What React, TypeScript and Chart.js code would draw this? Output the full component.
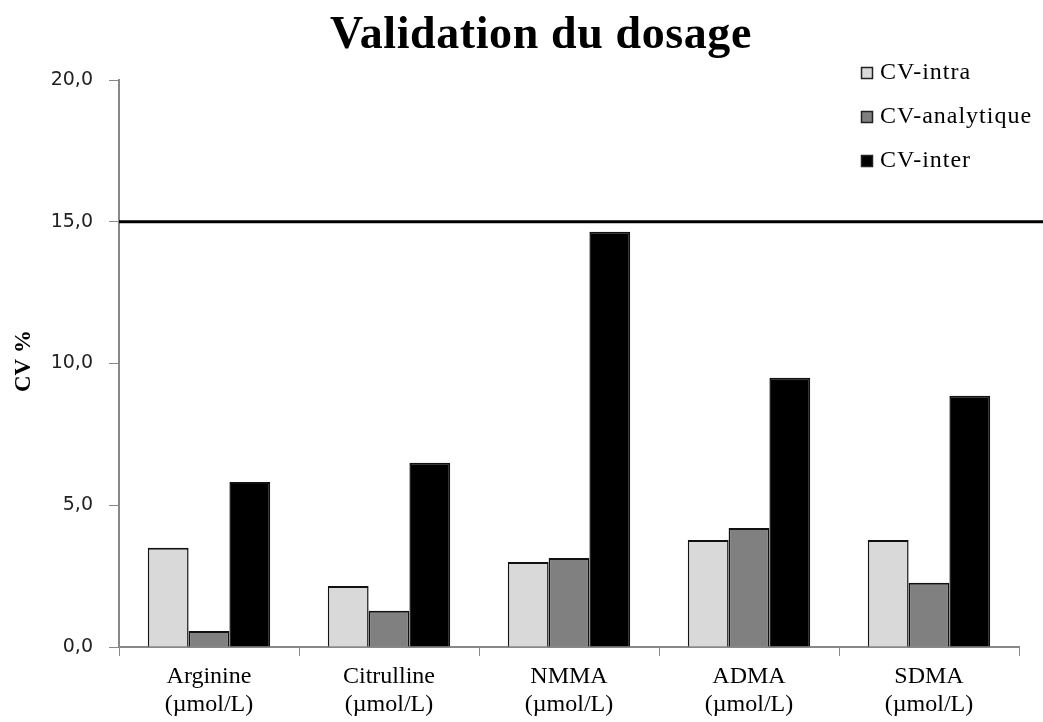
import React, { useEffect, useRef } from "react";
import { Chart, registerables } from "chart.js";

Chart.register(...registerables);

const categories: string[][] = [
  ["Arginine", "(µmol/L)"],
  ["Citrulline", "(µmol/L)"],
  ["NMMA", "(µmol/L)"],
  ["ADMA", "(µmol/L)"],
  ["SDMA", "(µmol/L)"],
];
const cvIntra = [3.5, 2.15, 3.0, 3.77, 3.77];
const cvAnalytique = [0.56, 1.28, 3.14, 4.2, 2.27];
const cvInter = [5.82, 6.5, 14.65, 9.5, 8.86];
const seriesNames = ["CV-intra", "CV-analytique", "CV-inter"];
const seriesColors = ["#d9d9d9", "#808080", "#000000"];
const yTicks = [0, 5, 10, 15, 20];
const thresholdValue = 15;
const titleText = "Validation du dosage";
const yTitle = "CV %";

const overlayPlugin = {
  id: "overlay",
  afterDatasetsDraw(chart: any) {
    const { ctx, chartArea, scales } = chart;
    const y = scales.y.getPixelForValue(thresholdValue);
    ctx.save();
    ctx.strokeStyle = "#000";
    ctx.lineWidth = 3;
    ctx.beginPath();
    ctx.moveTo(chartArea.left, y);
    ctx.lineTo(chart.width, y);
    ctx.stroke();
    ctx.restore();
  },
  afterDraw(chart: any) {
    const { ctx } = chart;
    ctx.save();
    // title
    ctx.fillStyle = "#000";
    ctx.font = "bold 46px 'Liberation Serif', serif";
    (ctx as any).letterSpacing = "0.6px";
    ctx.textAlign = "center";
    ctx.textBaseline = "alphabetic";
    ctx.fillText(titleText, 541, 48);
    (ctx as any).letterSpacing = "0px";
    // y title
    ctx.save();
    ctx.translate(24, 361);
    ctx.rotate(-Math.PI / 2);
    ctx.font = "bold 23px 'Liberation Serif', serif";
    ctx.textBaseline = "middle";
    ctx.fillText(yTitle, 0, 0);
    ctx.restore();
    // legend
    const ys = [73, 117, 161];
    ctx.font = "24px 'Liberation Serif', serif";
    (ctx as any).letterSpacing = "1px";
    ctx.textAlign = "left";
    ctx.textBaseline = "middle";
    chart.data.datasets.forEach((ds: any, i: number) => {
      const yy = ys[i];
      ctx.fillStyle = ds.backgroundColor;
      ctx.fillRect(861, yy - 6, 11, 11);
      ctx.strokeStyle = "#222";
      ctx.lineWidth = 1.5;
      ctx.strokeRect(861.5, yy - 5.5, 11, 11);
      ctx.fillStyle = "#000";
      ctx.fillText(ds.label, 880, yy);
    });
    (ctx as any).letterSpacing = "0px";
    ctx.restore();
  },
};

export default function App() {
  const ref = useRef<HTMLCanvasElement>(null);
  useEffect(() => {
    document.body.style.margin = "0";
    const values = [cvIntra, cvAnalytique, cvInter];
    const chart = new Chart(ref.current!, {
      type: "bar",
      data: {
        labels: categories,
        datasets: seriesNames.map((name, i) => ({
          label: name,
          data: values[i],
          backgroundColor: seriesColors[i],
          borderColor: "#111",
          borderWidth: { top: 2, left: 1.5, right: 1.5, bottom: 0 },
          borderSkipped: "bottom",
          categoryPercentage: 0.68,
          barPercentage: 1.0,
        })),
      },
      options: {
        responsive: false,
        animation: false,
        layout: { padding: { top: 80, right: 24, left: 0, bottom: 0 } },
        plugins: {
          legend: { display: false },
          title: { display: false },
          tooltip: { enabled: false },
        },
        scales: {
          x: {
            afterFit: (s: any) => {
              s.height = 75;
            },
            grid: {
              offset: true,
              drawOnChartArea: false,
              tickLength: 9,
              color: "#888",
            },
            border: { color: "#888", width: 2 },
            ticks: {
              color: "#000",
              padding: 7,
              font: { family: "'Liberation Serif', serif", size: 24, lineHeight: 1.17 },
              maxRotation: 0,
            },
          },
          y: {
            min: 0,
            max: 20,
            afterFit: (s: any) => {
              s.width = 119;
            },
            afterBuildTicks: (s: any) => {
              s.ticks = yTicks.map((v) => ({ value: v }));
            },
            grid: {
              drawOnChartArea: false,
              tickLength: 10,
              color: "#888",
            },
            border: { color: "#888", width: 2 },
            ticks: {
              color: "#222",
              padding: 16,
              font: { family: "'DejaVu Sans', sans-serif", size: 19 },
              callback: (v: any) => Number(v).toFixed(1).replace(".", ","),
            },
          },
        },
      },
      plugins: [overlayPlugin],
    });
    return () => chart.destroy();
  }, []);
  return <canvas ref={ref} width={1043} height={722} style={{ display: "block" }} />;
}
